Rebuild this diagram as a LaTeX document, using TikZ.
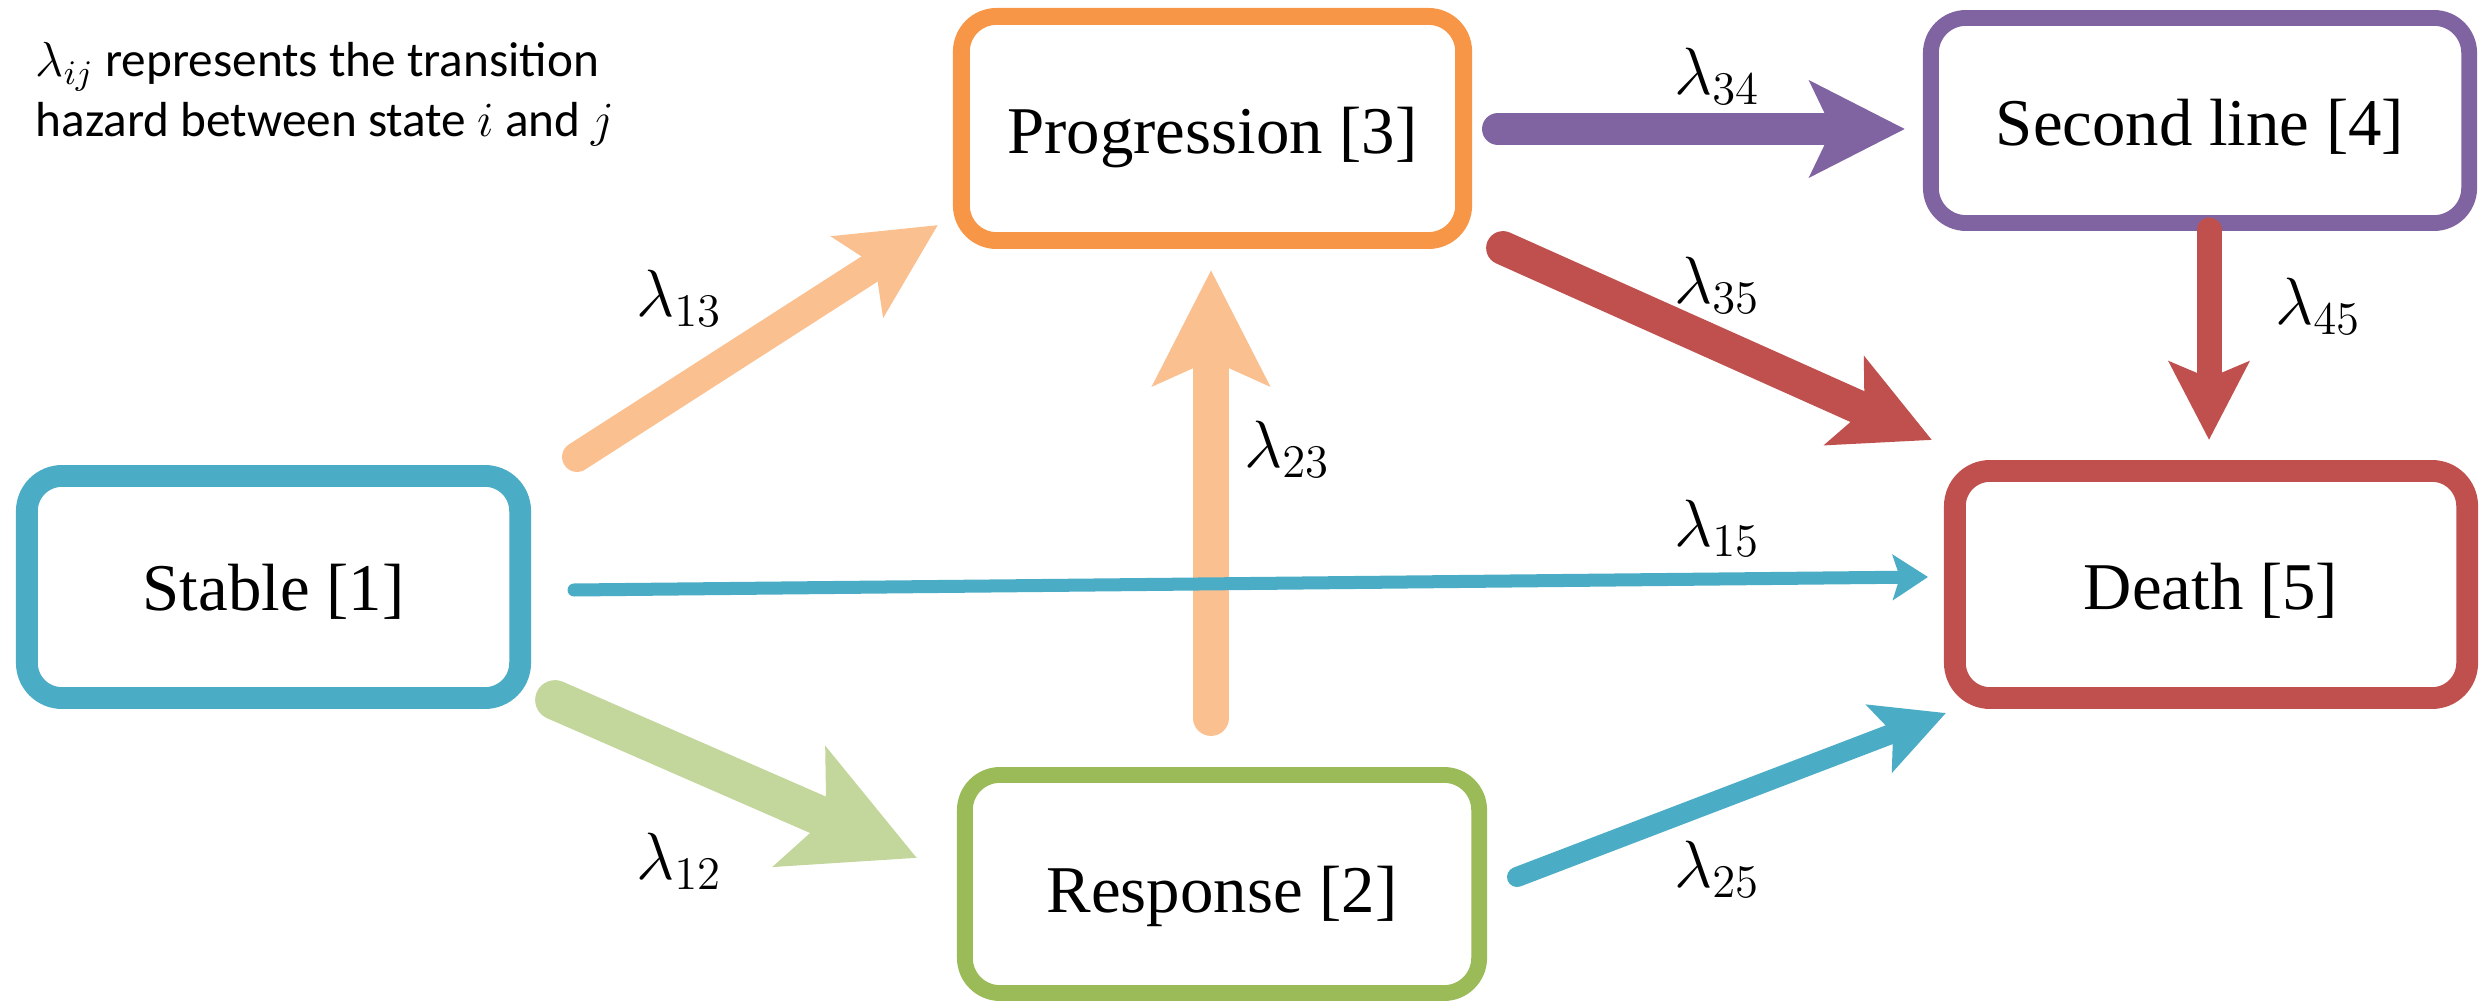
\RequirePackage{fix-cm}
\documentclass[tikz,border=0pt]{standalone}
\usepackage{fontspec}
\setmainfont{Liberation Serif}
\newfontfamily\notefont{Carlito}
\usetikzlibrary{arrows.meta}
\definecolor{cblue}{HTML}{4BACC6}
\definecolor{corange}{HTML}{F79646}
\definecolor{clorange}{HTML}{FAC090}
\definecolor{cgreen}{HTML}{9BBB59}
\definecolor{clgreen}{HTML}{C3D69B}
\definecolor{cpurple}{HTML}{8064A2}
\definecolor{cred}{HTML}{C0504D}
\begin{document}
\begin{tikzpicture}[x=0.01cm,y=-0.01cm,
  state/.style={draw, fill=white, rounded corners=10pt, align=center,
    font=\fontsize{19}{23}\selectfont, inner sep=0pt, text height=14.5pt, text depth=0pt},
  lab/.style={font=\fontsize{19}{23}\selectfont, inner sep=0pt},
  conn/.style={line cap=round},
]
\useasboundingbox (0,0) rectangle (2486,1001);

% states
\node[state, draw=cblue, line width=6.2pt, minimum width=4.93cm, minimum height=2.22cm, text height=13.5pt] (s1) at (273.5,587) {Stable [1]};
\node[state, draw=cgreen, line width=4.5pt, minimum width=5.14cm, minimum height=2.18cm, text height=16pt] (s2) at (1222,884) {Response [2]};
\node[state, draw=corange, line width=4.8pt, minimum width=5.02cm, minimum height=2.24cm] (s3) at (1212.5,128.5) {Progression [3]};
\node[state, draw=cpurple, line width=4.5pt, minimum width=5.38cm, minimum height=2.05cm] (s4) at (2200,120.5) {Second line [4]};
\node[state, draw=cred, line width=6.2pt, minimum width=5.12cm, minimum height=2.27cm] (s5) at (2211,584.5) {Death [5]};

% connector end points
\coordinate (a13) at (577,457);  \coordinate (b13) at (938,225);
\coordinate (a12) at (555,700);  \coordinate (b12) at (917,858);
\coordinate (a23) at (1211,718); \coordinate (b23) at (1211,270);
\coordinate (a34) at (1498,129); \coordinate (b34) at (1905,129);
\coordinate (a35) at (1503,248); \coordinate (b35) at (1932,440);
\coordinate (a45) at (2209,230); \coordinate (b45) at (2209,440);
\coordinate (a15) at (574,590);  \coordinate (b15) at (1928,577);
\coordinate (a25) at (1517,877); \coordinate (b25) at (1946,713);

% connectors
\draw[conn, clorange, line width=8.5pt, -{Stealth[length=26.9pt, width=26.6pt, inset=5.7pt]}] (a13) -- (b13);
\draw[conn, clgreen, line width=11.3pt, -{Stealth[length=36pt, width=36.3pt, inset=7.9pt]}] (a12) -- (b12);
\draw[conn, clorange, line width=10.2pt, -{Stealth[length=32.6pt, width=32.6pt, inset=7pt]}] (a23) -- (b23);
\draw[conn, cpurple, line width=9.1pt, -{Stealth[length=26.9pt, width=26.9pt, inset=6.2pt]}] (a34) -- (b34);
\draw[conn, cred, line width=9.6pt, -{Stealth[length=27pt, width=27pt, inset=6pt]}] (a35) -- (b35);
\draw[conn, cred, line width=7.1pt, -{Stealth[length=22.1pt, width=22.4pt, inset=4.5pt]}] (a45) -- (b45);
\draw[conn, cblue, line width=3.7pt, -{Stealth[length=10pt, width=12.8pt, inset=2pt]}] (a15) -- (b15);
\draw[conn, cblue, line width=5.7pt, -{Stealth[length=20.1pt, width=20.1pt, inset=4pt]}] (a25) -- (b25);

% labels
\node[lab] (l13) at (679,298) {$\lambda_{13}$};
\node[lab] (l12) at (679,861) {$\lambda_{12}$};
\node[lab] (l23) at (1287,449) {$\lambda_{23}$};
\node[lab] (l34) at (1717,76) {$\lambda_{34}$};
\node[lab] (l35) at (1717,285) {$\lambda_{35}$};
\node[lab] (l45) at (2318,306) {$\lambda_{45}$};
\node[lab] (l15) at (1717,528) {$\lambda_{15}$};
\node[lab] (l25) at (1717,869) {$\lambda_{25}$};

% note
\node[anchor=north west, align=left, inner sep=0pt, font=\notefont\fontsize{14}{17}\selectfont] (note) at (35,42)
  {$\lambda_{ij}$ represents the transition\\hazard between state $i$ and $j$};
\end{tikzpicture}
\end{document}
